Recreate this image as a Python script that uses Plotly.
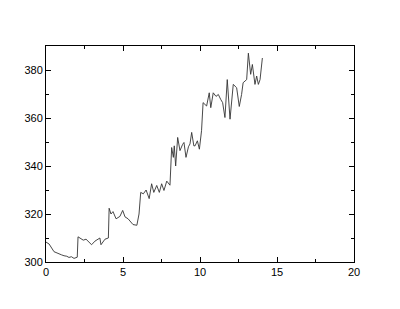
import plotly.graph_objects as go

x_vals = [0.0, 0.2, 0.52, 0.8, 1.0, 1.17, 1.35, 1.49, 1.65, 1.82, 2.03,
          2.08, 2.25, 2.42, 2.6, 2.75, 2.96, 3.18, 3.35, 3.5, 3.57, 3.7, 3.83, 4.05,
          4.1, 4.22, 4.35, 4.55, 4.8, 4.98, 5.13, 5.33, 5.5, 5.65, 5.9, 6.04,
          6.15, 6.32, 6.5, 6.7, 6.86, 7.0, 7.19, 7.36, 7.51, 7.66, 7.84, 8.05,
          8.16, 8.27, 8.33, 8.42, 8.55, 8.7, 8.87, 8.96, 9.09, 9.25, 9.35, 9.46,
          9.6, 9.68, 9.83, 9.96, 10.1, 10.2, 10.43, 10.6, 10.7, 10.86, 11.04,
          11.19, 11.34, 11.47, 11.62, 11.77, 11.95, 12.16, 12.38, 12.55, 12.7,
          12.8, 13.03, 13.14, 13.29, 13.4, 13.57, 13.68, 13.79, 13.9, 14.05]
y_vals = [308.3, 307.5, 304.3, 303.4, 303.0, 302.6, 302.4, 301.9, 302.2, 301.5, 302.0,
          310.5, 309.6, 309.1, 309.5, 308.7, 307.2, 308.7, 309.3, 310.0, 307.2, 308.5, 309.5, 310.0,
          322.4, 320.0, 321.0, 318.0, 319.0, 321.5, 318.8, 318.0, 316.8, 315.6, 315.3, 320.0,
          329.0, 328.4, 330.0, 326.4, 332.6, 329.0, 331.9, 329.0, 332.6, 329.8, 333.7, 332.0,
          347.7, 343.6, 348.4, 340.0, 351.9, 346.4, 349.0, 349.8, 343.6, 348.0, 349.2, 354.0,
          348.4, 348.4, 350.5, 347.0, 354.7, 366.4, 365.0, 370.5, 364.3, 370.5, 369.0,
          369.8, 367.8, 366.4, 360.2, 376.0, 359.5, 374.0, 372.6, 364.8, 369.8,
          374.7, 376.0, 387.0, 378.2, 382.3, 374.0, 377.5, 374.0, 376.0, 385.0]

fig = go.Figure(go.Scatter(x=x_vals, y=y_vals, mode="lines",
                           line=dict(color="#333333", width=0.9)))

axis_common = dict(
    showgrid=False, zeroline=False, showline=True, linecolor="black", linewidth=1,
    mirror="ticks", ticks="inside", ticklen=5, tickcolor="black", tickwidth=1,
    tickfont=dict(family="Liberation Sans, Arial, sans-serif", size=11, color="black"),
)
fig.update_layout(
    width=400, height=309,
    margin=dict(l=46, r=46, t=46, b=47),
    paper_bgcolor="white", plot_bgcolor="white",
    showlegend=False,
    xaxis=dict(range=[0, 20], tickvals=[0, 5, 10, 15, 20],
               minor=dict(ticks="inside", ticklen=3, tickcolor="black", dtick=2.5, tick0=0),
               **axis_common),
    yaxis=dict(range=[300, 390], tickvals=[300, 320, 340, 360, 380],
               minor=dict(ticks="inside", ticklen=3, tickcolor="black", dtick=10, tick0=300),
               **axis_common),
)
fig.write_html("out.html")
